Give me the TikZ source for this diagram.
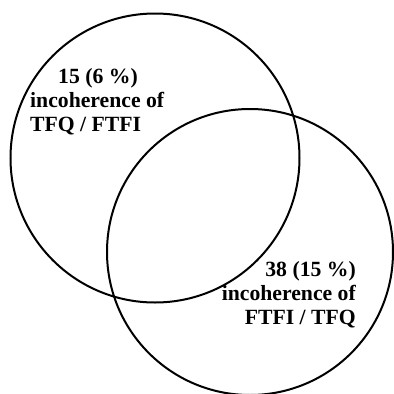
\documentclass[tikz,border=0pt]{standalone}
\usepackage{fontspec}
\setmainfont{Liberation Serif}
\usetikzlibrary{positioning}

\begin{document}
\begin{tikzpicture}[x=1pt,y=-1pt,every node/.style={font=\bfseries\fontsize{21.7}{24}\selectfont,inner sep=0pt},ring/.style={line width=2pt}]
\useasboundingbox[fill=white] (0,0) rectangle (394,394);
\coordinate (A) at (155,158);\coordinate (B) at (250,252);
\draw[ring] (A) circle[radius=144.5];
\draw[ring] (B) circle[radius=143];
\node[anchor=base west,align=left] (left) at (30,131) {\hspace*{28pt}15 (6 \%)\\incoherence of\\TFQ / FTFI};
\node[anchor=base east,align=right] (right) at (356,324) {38 (15 \%)\\incoherence of\\FTFI / TFQ};
\end{tikzpicture}
\end{document}
